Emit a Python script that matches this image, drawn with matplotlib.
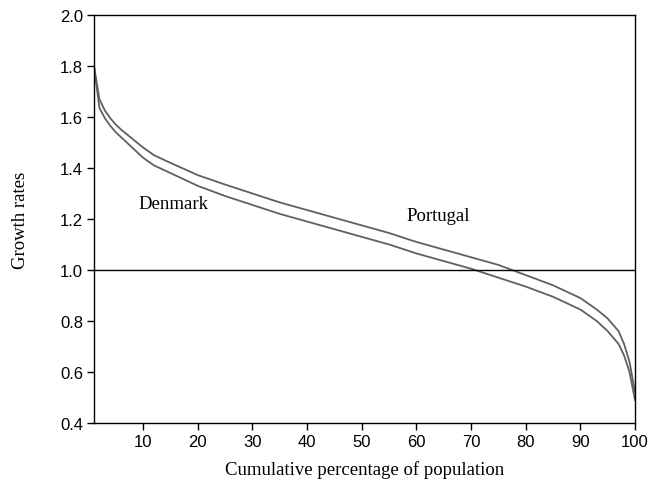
import numpy as np
import matplotlib
matplotlib.use('Agg')
import matplotlib.pyplot as plt

# cumulative percentage of population
pct = [1, 2, 3, 4, 5, 6, 8, 10, 12, 15, 20, 25, 30, 35, 40, 45, 50,
       55, 60, 65, 70, 75, 80, 85, 90, 93, 95, 97, 98, 99, 100]

denmark = [1.80, 1.635, 1.595, 1.565, 1.54, 1.52, 1.48, 1.44, 1.41, 1.38,
           1.33, 1.29, 1.255, 1.22, 1.19, 1.16, 1.13, 1.10, 1.065, 1.035,
           1.005, 0.97, 0.935, 0.895, 0.845, 0.80, 0.76, 0.71, 0.665, 0.60, 0.49]

portugal = [1.80, 1.67, 1.625, 1.595, 1.57, 1.55, 1.515, 1.48, 1.45, 1.42,
            1.372, 1.335, 1.30, 1.265, 1.235, 1.205, 1.175, 1.145, 1.11, 1.08,
            1.05, 1.02, 0.98, 0.94, 0.89, 0.845, 0.81, 0.76, 0.71, 0.64, 0.52]

xticks = [10, 20, 30, 40, 50, 60, 70, 80, 90, 100]
yticks = [0.4, 0.6, 0.8, 1.0, 1.2, 1.4, 1.6, 1.8, 2.0]

fig = plt.figure(figsize=(6.5, 4.85), dpi=100)
ax = fig.add_axes([0.1446, 0.1258, 0.8323, 0.8412])

line_col = '#606060'
ax.plot(pct, denmark, color=line_col, lw=1.3)
ax.plot(pct, portugal, color=line_col, lw=1.3)
ax.axhline(1.0, color='black', lw=1.0)

ax.text(15.5, 1.26, 'Denmark', family='Liberation Serif', fontsize=13.5,
        ha='center', va='center')
ax.text(64.0, 1.215, 'Portugal', family='Liberation Serif', fontsize=13.5,
        ha='center', va='center')

ax.set_xlim(1, 100)
ax.set_ylim(0.4, 2.0)
ax.set_xticks(xticks)
ax.set_yticks(yticks)
ax.set_yticklabels(['%.1f' % v for v in yticks])
ax.tick_params(labelsize=12, length=5, width=1, direction='out', pad=3)
for lab in ax.get_xticklabels() + ax.get_yticklabels():
    lab.set_family('Liberation Sans')
for sp in ax.spines.values():
    sp.set_linewidth(1.0)

ax.set_xlabel('Cumulative percentage of population', family='Liberation Serif',
              fontsize=13.5, labelpad=8)
ax.set_ylabel('Growth rates', family='Liberation Serif', fontsize=13.5,
              labelpad=22)

fig.savefig('out.png', dpi=100)
